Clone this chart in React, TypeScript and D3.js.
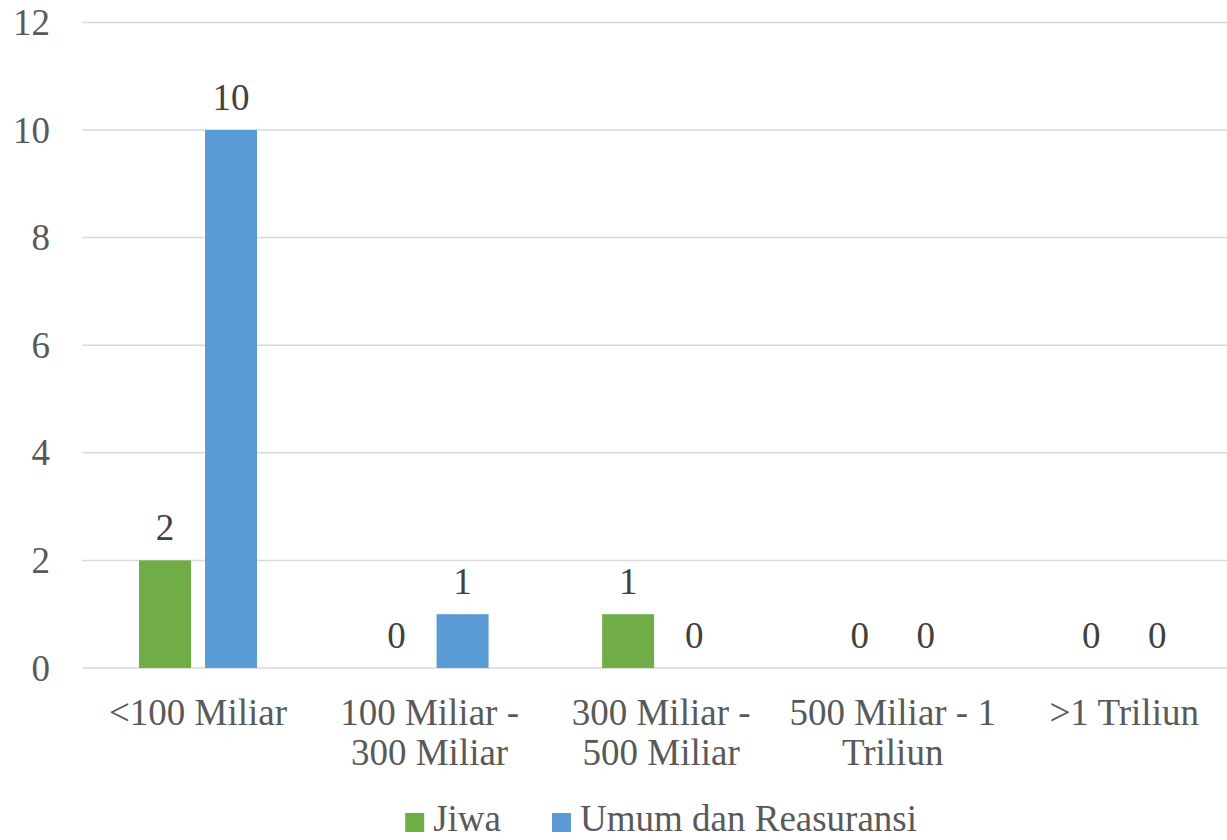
import React from "react";
import * as d3 from "d3";

const categories = ["<100 Miliar", "100 Miliar - 300 Miliar", "300 Miliar - 500 Miliar", "500 Miliar - 1 Triliun", ">1 Triliun"];
const seriesNames = ["Jiwa", "Umum dan Reasuransi"];
const jiwa = [2, 0, 1, 0, 0];
const umum = [10, 1, 0, 0, 0];
const yTicks = [0, 2, 4, 6, 8, 10, 12];
const colors = ["#70AD47", "#5B9BD5"];

const W = 1227;
const H = 840;
const FONT = "'Liberation Serif', 'Times New Roman', serif";
const FS = 37;
const TEXT = "#595959";

let ctx: CanvasRenderingContext2D | null = null;
function measure(s: string): number {
  if (!ctx) {
    const c = document.createElement("canvas");
    ctx = c.getContext("2d");
  }
  if (!ctx) return s.length * FS * 0.5;
  ctx.font = `${FS}px 'Liberation Serif'`;
  return ctx.measureText(s).width;
}

function wrap(label: string, maxW: number): string[] {
  const words = label.split(" ");
  const lines: string[] = [];
  let cur = "";
  for (const w of words) {
    const t = cur ? cur + " " + w : w;
    if (cur && measure(t) > maxW) {
      lines.push(cur);
      cur = w;
    } else cur = t;
  }
  if (cur) lines.push(cur);
  return lines;
}

export default function App() {
  const plotLeft = 82.25;
  const plotRight = 1240;
  const y0 = 668;
  const yTop = 22.4;

  const x = d3.scaleBand<string>().domain(categories).range([plotLeft, plotRight]).paddingInner(0).paddingOuter(0);
  const y = d3.scaleLinear().domain([0, 12]).range([y0, yTop]);
  const barW = 52;
  const gap = 14;
  const series = [jiwa, umum];

  const legendItems = seriesNames.map((n) => ({ n, w: measure(n) }));
  const sq = 19;
  const sqGap = 9;
  const itemGap = 51;
  const totalLegend = legendItems.reduce((a, it) => a + sq + sqGap + it.w, 0) + itemGap * (legendItems.length - 1);
  let lx = (plotLeft + plotRight) / 2 - totalLegend / 2;
  const legendPos = legendItems.map((it) => {
    const p = { ...it, x: lx };
    lx += sq + sqGap + it.w + itemGap;
    return p;
  });

  return (
    <svg width={W} height={H} style={{ position: "absolute", left: 0, top: 0, background: "#fff" }} fontFamily={FONT}>
      <rect x={0} y={0} width={W} height={H} fill="#fff" />
      {yTicks.map((t) => (
        <g key={t}>
          <line x1={plotLeft} x2={plotRight} y1={y(t)} y2={y(t)} stroke="#d9d9d9" strokeWidth={1.5} />
          <text x={50} y={y(t) + 12.5} textAnchor="end" fontSize={FS} fill={TEXT}>
            {t}
          </text>
        </g>
      ))}
      {categories.map((c, i) => {
        const cx = (x(c) as number) + x.bandwidth() / 2;
        return (
          <g key={c}>
            {series.map((s, si) => {
              const bx = si === 0 ? cx - gap / 2 - barW : cx + gap / 2;
              const v = s[i];
              return (
                <g key={si}>
                  {v > 0 && <rect x={bx} y={y(v)} width={barW} height={y0 - y(v)} fill={colors[si]} />}
                  <text x={bx + barW / 2} y={y(v) - 20} textAnchor="middle" fontSize={FS} fill="#404040">
                    {v}
                  </text>
                </g>
              );
            })}
            {wrap(c, x.bandwidth()).map((ln, li) => (
              <text key={li} x={cx} y={725 + li * 40} textAnchor="middle" fontSize={FS} fill={TEXT}>
                {ln}
              </text>
            ))}
          </g>
        );
      })}
      {legendPos.map((it, i) => (
        <g key={it.n}>
          <rect x={it.x} y={813} width={sq} height={sq} fill={colors[i]} />
          <text x={it.x + sq + sqGap} y={831} fontSize={FS} fill={TEXT}>
            {it.n}
          </text>
        </g>
      ))}
    </svg>
  );
}
